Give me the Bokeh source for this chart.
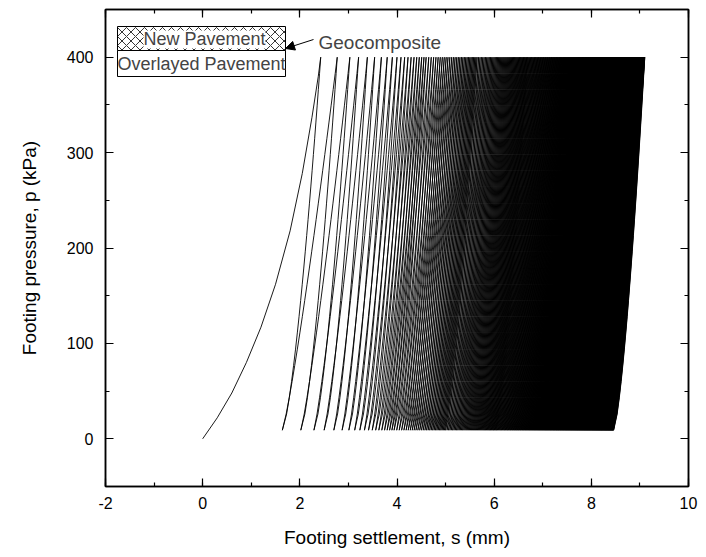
import numpy as np
from bokeh.plotting import figure
from bokeh.models import (Range1d, LinearAxis, SingleIntervalTicker, Label,
                          Arrow, NormalHead, CustomJSTickFormatter)
from bokeh.embed import file_html
from bokeh.resources import INLINE

# ---- data ----
# first (virgin) loading curve
first_s = [0.0, 0.30, 0.60, 0.90, 1.20, 1.50, 1.80, 2.05, 2.25, 2.38, 2.43]
first_p = [0, 22, 48, 80, 117, 162, 218, 278, 337, 380, 400]
# peak / residual settlement of the load cycles at reference cycle numbers
cycle_ref = [1, 2, 3, 4, 5, 6, 10, 20, 30, 50, 100, 200, 300, 400]
peak_ref = [2.43, 2.77, 3.03, 3.21, 3.39, 3.54, 4.00, 4.60, 5.05, 5.65, 6.70, 7.90, 8.60, 9.10]
resid_ref = [1.64, 2.02, 2.29, 2.50, 2.70, 2.87, 3.33, 3.94, 4.39, 5.00, 6.05, 7.25, 7.95, 8.46]
p_min = 9
p_max = 400
n_cycles = 400

x_ticks_interval = 2
y_ticks_interval = 100

# ---- build the cyclic curve ----
cyc = np.arange(1, n_cycles + 1)
peaks = np.interp(np.log(cyc), np.log(cycle_ref), peak_ref)
resids = np.interp(np.log(cyc), np.log(cycle_ref), resid_ref)

q = np.linspace(0, 1, 24)
xs = list(first_s)
ys = list(first_p)
prev_r = None
for i in range(n_cycles):
    sp, sr = peaks[i], resids[i]
    if prev_r is not None:
        # reloading branch
        xs += list(prev_r + (sp - prev_r) * q[1:] ** 0.85)
        ys += list(p_min + (p_max - p_min) * q[1:])
    # unloading branch
    qd = q[::-1][1:]
    xs += list(sr + (sp - sr) * qd ** 0.7)
    ys += list(p_min + (p_max - p_min) * qd)
    prev_r = sr

FONT = "Liberation Sans"

p = figure(width=698, height=557, output_backend="svg", toolbar_location=None,
           x_range=Range1d(-2, 10), y_range=Range1d(-50, 450),
           min_border_left=105, min_border_right=10, min_border_top=9,
           min_border_bottom=71)
p.grid.visible = False
p.outline_line_color = "black"
p.outline_line_width = 1.5

p.line(xs, ys, line_color="black", line_width=0.9)

xt = SingleIntervalTicker(interval=x_ticks_interval, num_minor_ticks=2)
yt = SingleIntervalTicker(interval=y_ticks_interval, num_minor_ticks=2)
bottom_ax = p.below[0]
left_ax = p.left[0]
bottom_ax.ticker = xt
left_ax.ticker = yt
bottom_ax.axis_label = "Footing settlement, s (mm)"
left_ax.axis_label = "Footing pressure, p (kPa)"
blank = CustomJSTickFormatter(code="return ''")
p.add_layout(LinearAxis(ticker=xt, formatter=blank), "above")
p.add_layout(LinearAxis(ticker=yt, formatter=blank), "right")

for ax in p.axis:
    ax.axis_line_width = 1.5
    ax.major_tick_in = 8
    ax.major_tick_out = 0
    ax.minor_tick_in = 4
    ax.minor_tick_out = 0
    ax.major_tick_line_width = 1.2
    ax.minor_tick_line_width = 1.2
    ax.major_label_text_font = FONT
    ax.major_label_text_font_size = "16px"
    ax.major_label_text_color = "black"
    ax.axis_label_text_font = FONT
    ax.axis_label_text_font_size = "19px"
    ax.axis_label_text_font_style = "normal"
    ax.axis_label_text_color = "black"
    ax.major_label_standoff = 12
p.above[0].major_label_standoff = 0
p.right[0].major_label_standoff = 0
bottom_ax.major_label_standoff = 10
bottom_ax.major_label_overrides = {-2: "-2"}
bottom_ax.axis_label_standoff = 15
left_ax.axis_label_standoff = 24

# ---- legend-like annotation ----
def X(px):
    return -2 + (px - 105) / 48.583

def Y(py):
    return 450 - (py - 9) / 0.954

p.quad(left=[X(117)], right=[X(285)], top=[Y(26)], bottom=[Y(50)],
       fill_color="white", line_color="black", line_width=1,
       hatch_pattern="diagonal_cross", hatch_scale=9, hatch_weight=0.8,
       hatch_color="black")
p.quad(left=[X(143)], right=[X(265)], top=[Y(30)], bottom=[Y(48)],
       fill_color="white", line_color=None)
p.quad(left=[X(117)], right=[X(285)], top=[Y(50)], bottom=[Y(76)],
       fill_color="white", line_color="black", line_width=1)
p.add_layout(Label(x=X(204), y=Y(38.5), text="New Pavement", text_align="center",
                   text_baseline="middle", text_font=FONT, text_font_size="18px"))
p.add_layout(Label(x=X(201), y=Y(63), text="Overlayed Pavement", text_align="center",
                   text_baseline="middle", text_font=FONT, text_font_size="18px"))
p.add_layout(Label(x=X(318), y=Y(42), text="Geocomposite", text_align="left",
                   text_baseline="middle", text_font=FONT, text_font_size="19px"))
p.add_layout(Arrow(x_start=X(313), y_start=Y(39), x_end=X(285), y_end=Y(48),
                   line_width=1, line_color="black",
                   end=NormalHead(size=9, fill_color="black", line_color="black")))

open("out.html", "w").write(file_html(p, INLINE))
